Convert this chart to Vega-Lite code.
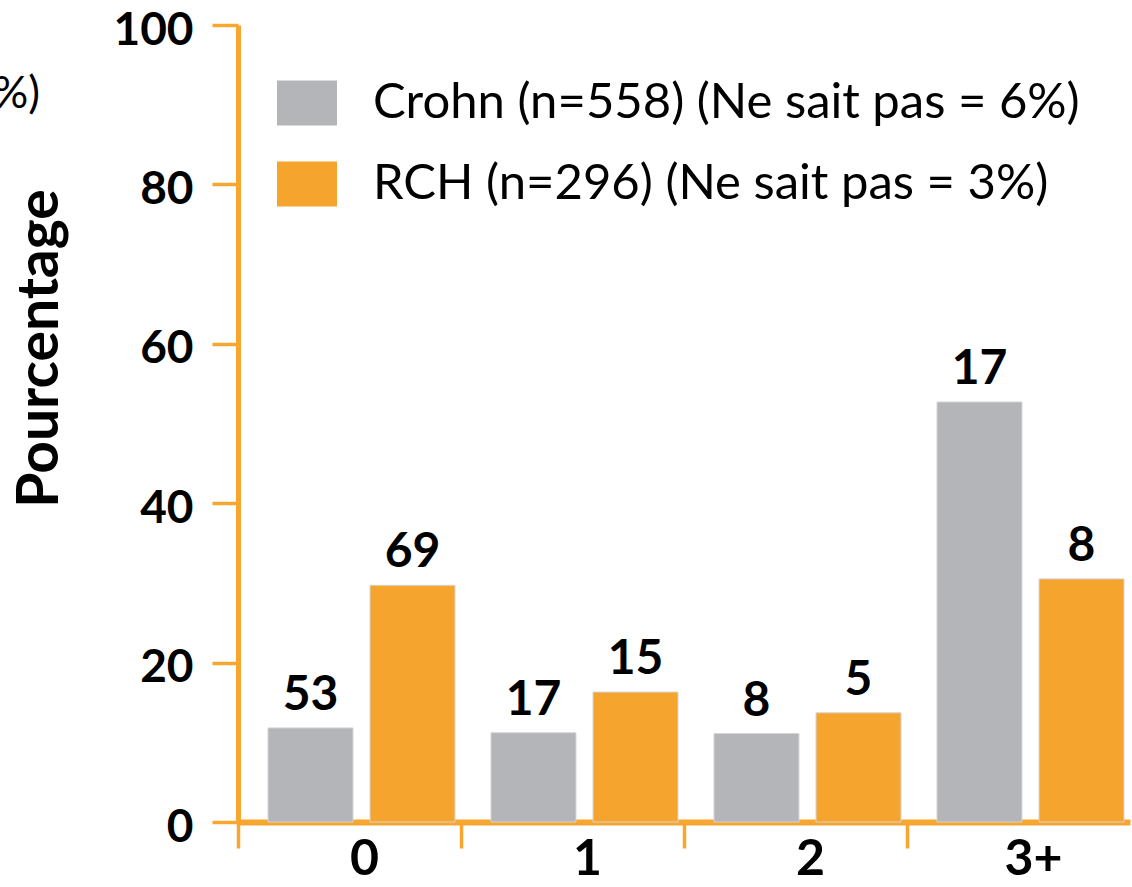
{
  "$schema": "https://vega.github.io/schema/vega-lite/v6.json",
  "width": 892,
  "height": 797,
  "autosize": {"type": "none"},
  "padding": {"left": 238, "top": 25, "right": 2, "bottom": 65},
  "background": "white",
  "title": {
    "text": "(%)",
    "anchor": "start",
    "frame": "group",
    "align": "right",
    "baseline": "alphabetic",
    "dx": -198,
    "dy": 145,
    "offset": 0,
    "font": "Lato",
    "fontSize": 44,
    "fontWeight": "normal",
    "color": "black"
  },
  "data": {
    "values": [
      {"nb": "0", "groupe": "Crohn", "valeur": 11.8, "etiquette": "53"},
      {"nb": "0", "groupe": "RCH", "valeur": 29.7, "etiquette": "69"},
      {"nb": "1", "groupe": "Crohn", "valeur": 11.2, "etiquette": "17"},
      {"nb": "1", "groupe": "RCH", "valeur": 16.3, "etiquette": "15"},
      {"nb": "2", "groupe": "Crohn", "valeur": 11.1, "etiquette": "8"},
      {"nb": "2", "groupe": "RCH", "valeur": 13.7, "etiquette": "5"},
      {"nb": "3+", "groupe": "Crohn", "valeur": 52.7, "etiquette": "17"},
      {"nb": "3+", "groupe": "RCH", "valeur": 30.5, "etiquette": "8"}
    ]
  },
  "encoding": {
    "x": {
      "field": "nb",
      "type": "nominal",
      "sort": ["0", "1", "2", "3+"],
      "scale": {"paddingInner": 0, "paddingOuter": 0},
      "axis": {
        "title": null,
        "bandPosition": 0,
        "labelOffset": 15,
        "labelAngle": 0,
        "labelFont": "Lato",
        "labelFontSize": 50,
        "labelFontWeight": "bold",
        "labelColor": "black",
        "labelPadding": -14,
        "domain": true,
        "domainColor": "#F7A630",
        "domainWidth": 6,
        "ticks": true,
        "tickColor": "#F7A630",
        "tickWidth": 3.5,
        "tickSize": 26
      }
    },
    "xOffset": {
      "field": "groupe",
      "type": "nominal",
      "sort": ["Crohn", "RCH"],
      "scale": {"range": [30, 217], "paddingInner": 0.167, "paddingOuter": 0}
    },
    "y": {
      "field": "valeur",
      "type": "quantitative",
      "scale": {"domain": [0, 100], "nice": false, "zero": true},
      "axis": {
        "title": "Pourcentage",
        "titleFont": "Lato",
        "titleFontSize": 57,
        "titleFontWeight": "bold",
        "titleColor": "black",
        "titleAngle": -90,
        "titleX": -198,
        "titleY": 323,
        "titleAlign": "center",
        "titleBaseline": "middle",
        "values": [0, 20, 40, 60, 80, 100],
        "grid": false,
        "domainColor": "#F7A630",
        "domainWidth": 5,
        "tickColor": "#F7A630",
        "tickWidth": 3.5,
        "tickSize": 26,
        "labelFont": "Lato",
        "labelFontSize": 46,
        "labelFontWeight": "bold",
        "labelColor": "black",
        "labelPadding": 19,
        "labelOffset": 5
      }
    }
  },
  "layer": [
    {
      "mark": {"type": "bar", "stroke": "#d4d4d4", "strokeWidth": 1},
      "encoding": {
        "color": {
          "field": "groupe",
          "type": "nominal",
          "sort": ["Crohn", "RCH"],
          "scale": {"domain": ["Crohn", "RCH"], "range": ["#B4B5B8", "#F5A52D"]},
          "legend": {
            "title": null,
            "orient": "none",
            "legendX": 39,
            "legendY": 48,
            "padding": 0,
            "symbolType": "M-1,-0.75H1V0.75H-1Z",
            "symbolSize": 3600,
            "symbolStrokeWidth": 0,
            "rowPadding": 26,
            "labelOffset": 36,
            "labelFont": "Lato",
            "labelFontSize": 49,
            "labelColor": "black",
            "labelLimit": 0,
            "labelExpr": "datum.label == 'Crohn' ? 'Crohn (n=558) (Ne sait pas = 6%)' : 'RCH (n=296) (Ne sait pas = 3%)'"
          }
        }
      }
    },
    {
      "mark": {
        "type": "text",
        "align": "center",
        "baseline": "alphabetic",
        "dy": -18,
        "font": "Lato",
        "fontSize": 48,
        "fontWeight": "bold",
        "color": "black"
      },
      "encoding": {
        "text": {"field": "etiquette", "type": "nominal"}
      }
    }
  ],
  "config": {"view": {"stroke": null}}
}
